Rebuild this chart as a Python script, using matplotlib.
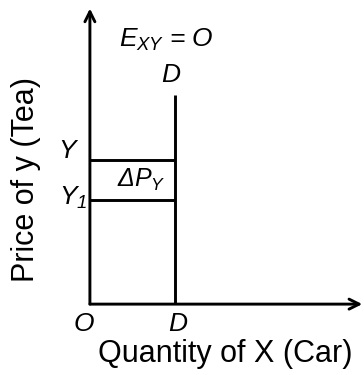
import matplotlib
matplotlib.use("Agg")
import matplotlib.pyplot as plt

# diagram values (data units)
qty_D = 1.0                  # demand for car stays at D
price_levels = [1.70, 1.22]  # Y, Y1
price_labels = ["Y", "Y$_1$"]
demand_top = 2.46
x_max = 3.22
y_max = 3.576

plt.rcParams['font.family'] = ['Liberation Sans', 'DejaVu Sans']
plt.rcParams['mathtext.fontset'] = 'custom'
plt.rcParams['mathtext.it'] = 'Liberation Sans:italic'
plt.rcParams['mathtext.rm'] = 'Liberation Sans:italic'

fig = plt.figure(figsize=(3.64, 3.75), dpi=100)
ax = fig.add_axes([0.247, 0.189, 0.753, 0.811])
ax.set_xlim(0, x_max)
ax.set_ylim(0, y_max)
ax.axis('off')

lw = 2.1
# axes with arrows
ax.annotate('', xy=(x_max - 0.02, 0), xytext=(0, 0),
            arrowprops=dict(arrowstyle='->', lw=lw, mutation_scale=18, shrinkA=0, shrinkB=0),
            annotation_clip=False)
ax.annotate('', xy=(0, y_max - 0.1), xytext=(0, 0),
            arrowprops=dict(arrowstyle='->', lw=lw, mutation_scale=18, shrinkA=0, shrinkB=0),
            annotation_clip=False)

# vertical demand line
ax.plot([qty_D, qty_D], [0, demand_top], color='black', lw=lw, solid_capstyle='butt')
# price levels
for p in price_levels:
    ax.plot([0, qty_D], [p, p], color='black', lw=lw, solid_capstyle='butt')

it = dict(style='italic', color='black')
ax.text(-0.27, price_levels[0] + 0.02, price_labels[0], fontsize=19, ha='center', va='baseline', **it)
ax.text(-0.2, price_levels[1] - 0.055, price_labels[1], fontsize=19, ha='center', va='baseline', **it)
ax.text(0.6, (price_levels[0] + price_levels[1]) / 2, r'$\Delta P_{Y}$', fontsize=18,
        ha='center', va='center')
ax.text(qty_D - 0.05, demand_top + 0.15, 'D', fontsize=19, ha='center', va='baseline', **it)
ax.text(0.34, 3.02, r'$E_{XY}$ = $O$', fontsize=19, ha='left', va='baseline', **it)
ax.text(-0.07, -0.235, 'O', fontsize=19, ha='center', va='center', **it)
ax.text(qty_D + 0.035, -0.235, 'D', fontsize=19, ha='center', va='center', **it)

ax.text(1.59, -0.59, 'Quantity of X (Car)', fontsize=22, ha='center', va='center')
ax.text(-0.75, 1.46, 'Price of y (Tea)', fontsize=22, rotation=90, ha='center', va='center')

fig.savefig('out.png', dpi=100)
